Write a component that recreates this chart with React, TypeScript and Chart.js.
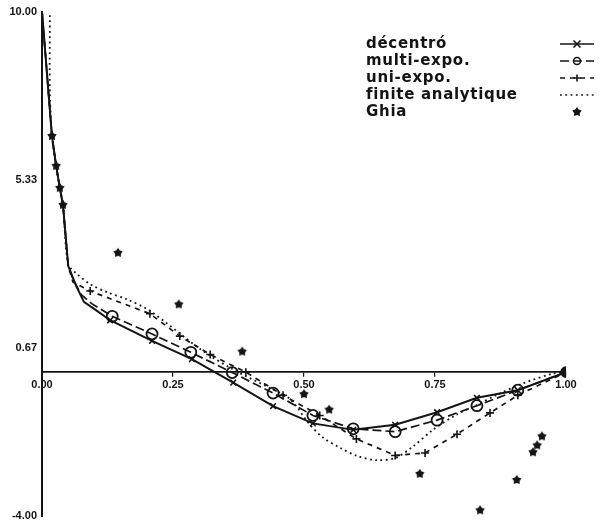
import React, { useEffect, useRef } from 'react';
import { Chart, registerables } from 'chart.js';

Chart.register(...registerables);

// ---- axis ticks ----
const X_TICKS = [0, 0.25, 0.5, 0.75, 1.0];
const Y_TICKS = [-4.0, 0.6667, 5.3333, 10.0];

// ---- series ----
const LABELS = ['décentró', 'multi-expo.', 'uni-expo.', 'finite analytique', 'Ghia'];

const DECENTRO_X = [0, 0.019, 0.027, 0.034, 0.04, 0.05, 0.065, 0.08, 0.105, 0.13, 0.21, 0.286, 0.365, 0.441, 0.517, 0.594, 0.674, 0.754, 0.83, 0.908, 1.0];
const DECENTRO_Y = [10.0, 6.55, 5.72, 5.11, 4.64, 2.95, 2.4, 1.95, 1.7, 1.44, 0.87, 0.36, -0.29, -0.94, -1.42, -1.6, -1.46, -1.11, -0.71, -0.5, 0.0];

const MULTI_X = [0, 0.019, 0.027, 0.034, 0.04, 0.05, 0.06, 0.075, 0.095, 0.134, 0.21, 0.284, 0.363, 0.441, 0.517, 0.594, 0.674, 0.754, 0.83, 0.908, 1.0];
const MULTI_Y = [10.0, 6.55, 5.72, 5.11, 4.64, 2.95, 2.55, 2.15, 1.9, 1.55, 1.06, 0.55, -0.01, -0.58, -1.2, -1.57, -1.65, -1.33, -0.93, -0.5, 0.0];

const UNI_X = [0, 0.019, 0.027, 0.034, 0.04, 0.05, 0.059, 0.092, 0.206, 0.263, 0.321, 0.389, 0.46, 0.53, 0.6, 0.674, 0.731, 0.792, 0.855, 0.908, 1.0];
const UNI_Y = [10.0, 6.55, 5.72, 5.11, 4.64, 2.95, 2.5, 2.25, 1.62, 1.0, 0.49, 0.0, -0.64, -1.2, -1.85, -2.31, -2.24, -1.72, -1.13, -0.64, 0.0];

const FINITE_X = [0.015, 0.015, 0.019, 0.027, 0.034, 0.04, 0.05, 0.067, 0.092, 0.124, 0.162, 0.206, 0.302, 0.365, 0.435, 0.473, 0.511, 0.536, 0.569, 0.601, 0.639, 0.674, 0.708, 0.746, 0.792, 0.83, 0.868, 0.918, 0.975, 1.0];
const FINITE_Y = [9.9, 7.8, 6.55, 5.72, 5.11, 4.64, 3.0, 2.72, 2.44, 2.22, 2.02, 1.7, 0.64, 0.07, -0.44, -0.74, -1.45, -1.81, -2.1, -2.32, -2.44, -2.38, -2.06, -1.6, -1.17, -0.91, -0.63, -0.31, -0.04, 0.0];

const GHIA_X = [0.019, 0.027, 0.034, 0.04, 0.145, 0.261, 0.382, 0.5, 0.548, 0.721, 0.836, 0.906, 0.937, 0.945, 0.954];
const GHIA_Y = [6.55, 5.72, 5.11, 4.64, 3.31, 1.88, 0.57, -0.61, -1.04, -2.82, -3.83, -2.99, -2.22, -2.03, -1.78];

const INK = '#141414';

function zip(xs: number[], ys: number[]) {
  return xs.map((x, i) => ({ x, y: ys[i] }));
}

function makeStar(r: number): HTMLCanvasElement {
  const c = document.createElement('canvas');
  const s = Math.ceil(r * 2 + 2);
  c.width = s;
  c.height = s;
  const g = c.getContext('2d')!;
  g.fillStyle = INK;
  g.beginPath();
  for (let i = 0; i < 10; i++) {
    const a = -Math.PI / 2 + (i * Math.PI) / 5;
    const rr = i % 2 === 0 ? r : r * 0.6;
    g.lineTo(s / 2 + rr * Math.cos(a), s / 2 + rr * Math.sin(a));
  }
  g.closePath();
  g.fill();
  return c;
}

function drawMarker(ctx: CanvasRenderingContext2D, style: string, x: number, y: number, r: number, star?: HTMLCanvasElement) {
  ctx.save();
  ctx.setLineDash([]);
  ctx.strokeStyle = INK;
  ctx.lineWidth = 1.6;
  ctx.beginPath();
  if (style === 'crossRot') {
    ctx.moveTo(x - r, y - r); ctx.lineTo(x + r, y + r);
    ctx.moveTo(x - r, y + r); ctx.lineTo(x + r, y - r);
    ctx.stroke();
  } else if (style === 'cross') {
    ctx.moveTo(x - r, y); ctx.lineTo(x + r, y);
    ctx.moveTo(x, y - r); ctx.lineTo(x, y + r);
    ctx.stroke();
  } else if (style === 'circle') {
    ctx.arc(x, y, r, 0, Math.PI * 2);
    ctx.stroke();
  } else if (style === 'star' && star) {
    ctx.drawImage(star, x - star.width / 2, y - star.height / 2);
  }
  ctx.restore();
}

export default function App() {
  const ref = useRef<HTMLCanvasElement | null>(null);

  useEffect(() => {
    document.body.style.margin = '0';
    const star = makeStar(5);
    const markerStyles = ['crossRot', 'circle', 'cross', '', 'star'];

    const legendPlugin = {
      id: 'sideLegend',
      afterDraw(chart: any) {
        const ctx: CanvasRenderingContext2D = chart.ctx;
        ctx.save();
        ctx.font = 'bold 15px "DejaVu Sans"';
        (ctx as any).letterSpacing = '0.7px';
        ctx.fillStyle = INK;
        ctx.strokeStyle = INK;
        ctx.textBaseline = 'middle';
        const x0 = 366, y0 = 44, dy = 17, sx0 = 560, sx1 = 594;
        chart.data.datasets.forEach((ds: any, i: number) => {
          const y = y0 + i * dy;
          ctx.fillText(ds.label, x0, y);
          if (ds.showLine !== false) {
            ctx.setLineDash(ds.borderDash || []);
            ctx.lineWidth = 1.6;
            ctx.beginPath();
            ctx.moveTo(sx0, y);
            ctx.lineTo(sx1, y);
            ctx.stroke();
            ctx.setLineDash([]);
          }
          const ms = markerStyles[i];
          if (ms) drawMarker(ctx, ms, (sx0 + sx1) / 2, y, 3.5, star);
        });
        ctx.restore();
      },
    };

    const tickFont = { family: '"Liberation Sans", Arial, sans-serif', weight: 'bold' as const, size: 11 };

    const chart = new Chart(ref.current!, {
      type: 'scatter',
      data: {
        datasets: [
          {
            label: LABELS[0],
            data: zip(DECENTRO_X, DECENTRO_Y),
            showLine: true,
            borderColor: INK,
            borderWidth: 2,
            pointStyle: (c: any) => (c.dataIndex === DECENTRO_X.length - 1 ? 'circle' : 'crossRot'),
            pointRadius: (c: any) => (c.raw && c.raw.x >= 0.12 ? (c.dataIndex === DECENTRO_X.length - 1 ? 5 : 4) : 0),
            pointBackgroundColor: INK,
            pointBorderColor: INK,
            pointBorderWidth: 1.6,
          },
          {
            label: LABELS[1],
            data: zip(MULTI_X, MULTI_Y),
            showLine: true,
            borderColor: INK,
            borderWidth: 1.7,
            borderDash: [9, 4],
            pointStyle: 'circle',
            pointRadius: (c: any) => (c.raw && c.raw.x >= 0.12 && c.raw.x < 0.99 ? 5.5 : 0),
            pointBackgroundColor: 'rgba(0,0,0,0)',
            pointBorderColor: INK,
            pointBorderWidth: 1.8,
          },
          {
            label: LABELS[2],
            data: zip(UNI_X, UNI_Y),
            showLine: true,
            borderColor: INK,
            borderWidth: 1.7,
            borderDash: [5, 5],
            pointStyle: 'cross',
            pointRadius: (c: any) => (c.raw && c.raw.x >= 0.09 && c.raw.x < 0.99 ? 4 : 0),
            pointBorderColor: INK,
            pointBorderWidth: 1.6,
          },
          {
            label: LABELS[3],
            data: zip(FINITE_X, FINITE_Y),
            showLine: true,
            borderColor: INK,
            borderWidth: 1.8,
            borderDash: [1.8, 3.5],
            pointRadius: 0,
            tension: 0.3,
          },
          {
            label: LABELS[4],
            data: zip(GHIA_X, GHIA_Y),
            showLine: false,
            pointStyle: star,
            pointRadius: 5,
          },
        ],
      },
      options: {
        animation: false,
        responsive: true,
        maintainAspectRatio: false,
        layout: { padding: { top: 1, right: 33, bottom: 0, left: 0 } },
        plugins: {
          legend: { display: false },
          tooltip: { enabled: false },
        },
        elements: { line: { tension: 0 } },
        scales: {
          x: {
            type: 'linear',
            position: { y: 0 } as any,
            min: 0,
            max: 1,
            afterBuildTicks: (s: any) => {
              s.ticks = X_TICKS.map((v) => ({ value: v }));
            },
            ticks: {
              color: INK,
              font: tickFont,
              padding: 2,
              maxRotation: 0,
              callback: (v: any) => Number(v).toFixed(2),
            },
            grid: { display: true, drawOnChartArea: false, drawTicks: true, tickLength: 4, color: INK, lineWidth: 1.2 },
            border: { display: true, color: INK, width: 1.8 },
          },
          y: {
            type: 'linear',
            position: 'left',
            min: -4,
            max: 10,
            afterBuildTicks: (s: any) => {
              s.ticks = Y_TICKS.map((v) => ({ value: v }));
            },
            afterFit: (s: any) => {
              s.width = 42;
            },
            ticks: {
              color: INK,
              font: tickFont,
              padding: 5,
              callback: (v: any) => Number(v).toFixed(2),
            },
            grid: { display: false, drawTicks: false },
            border: { display: true, color: INK, width: 2 },
          },
        },
      },
      plugins: [legendPlugin],
    });

    return () => chart.destroy();
  }, []);

  return (
    <div style={{ width: 599, height: 523, overflow: 'hidden', background: '#fff' }}>
      <div style={{ width: 599, height: 528, position: 'relative' }}>
        <canvas ref={ref} />
      </div>
    </div>
  );
}
